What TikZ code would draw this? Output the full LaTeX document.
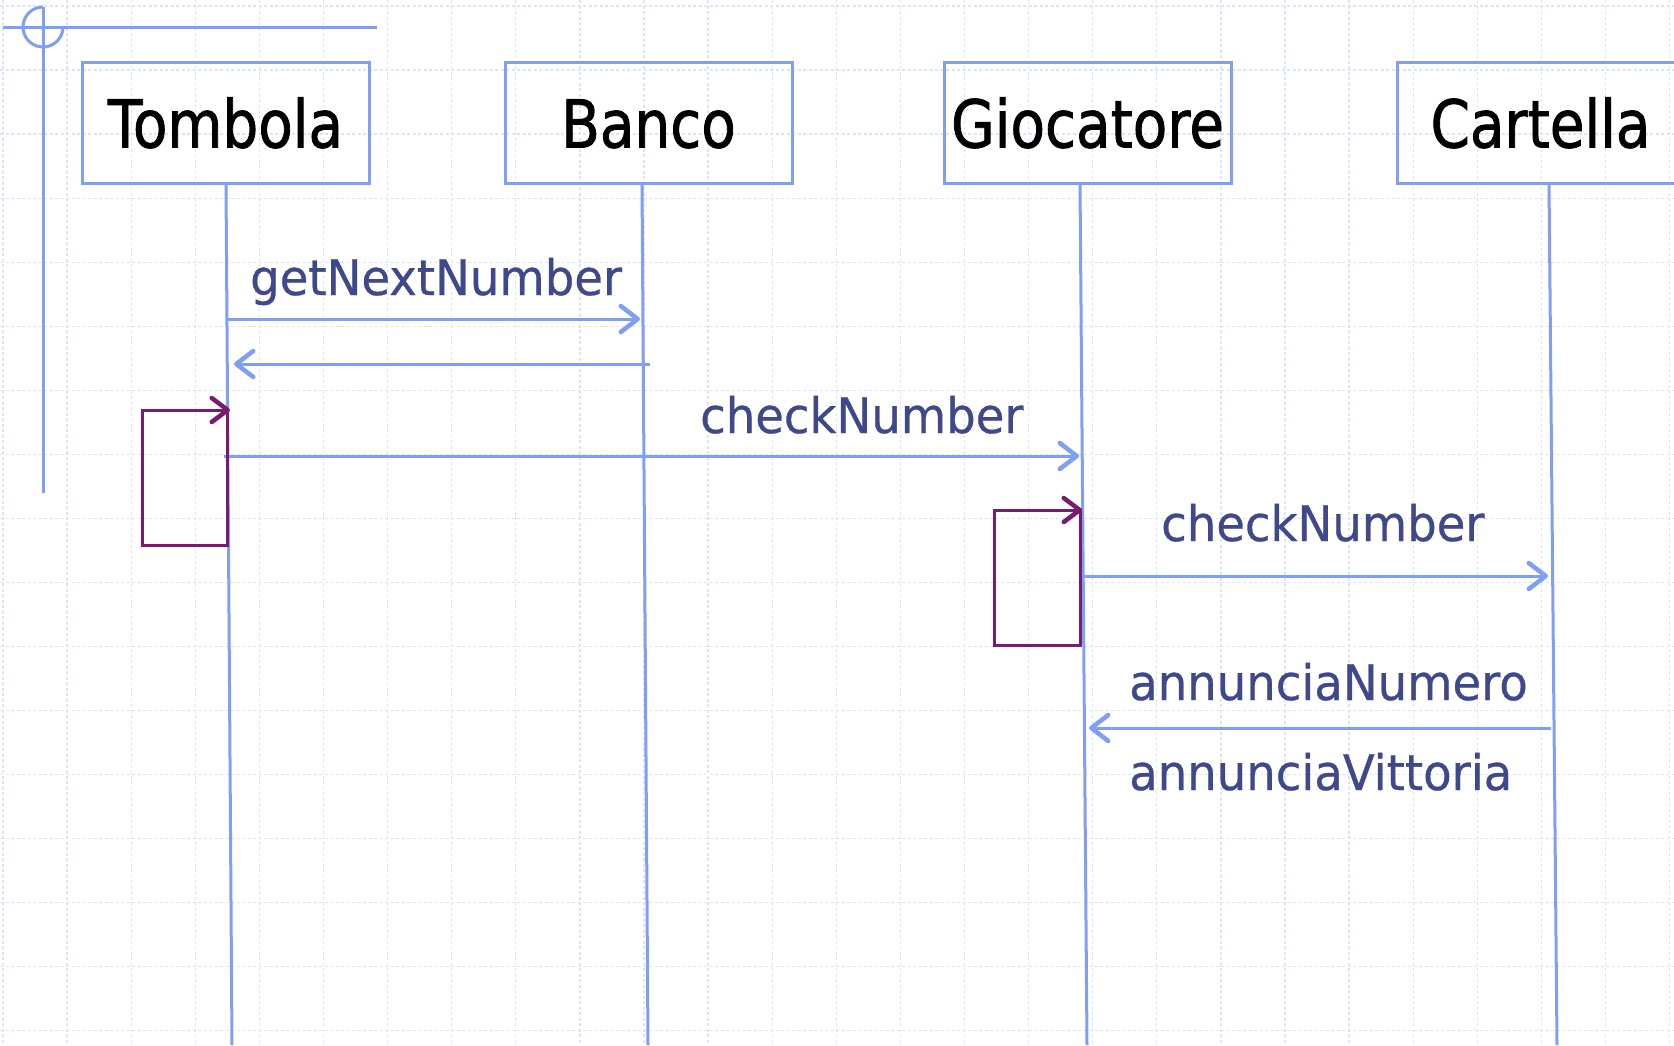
\documentclass[tikz,border=0pt]{standalone}
\usepackage{fontspec}
\usetikzlibrary{arrows.meta}
\newfontfamily\boxfont[FakeStretch=0.855,FakeBold=1.2]{DejaVu Sans}
\newfontfamily\msgfont[FakeStretch=0.95,FakeBold=0.6]{DejaVu Sans}
\definecolor{lineblue}{RGB}{127,158,245}
\definecolor{gridblue}{RGB}{220,228,252}
\definecolor{msgtext}{RGB}{64,72,140}
\definecolor{loopviolet}{RGB}{122,26,112}

\begin{document}
\begin{tikzpicture}[x=1pt,y=-1pt,
  gridline/.style={draw=gridblue, line width=1.3pt, dash pattern=on 3pt off 2.5pt},
  frame/.style={draw=lineblue, line width=3pt},
  object/.style={draw=lineblue, line width=3pt, minimum width=287pt, minimum height=121pt,
    inner sep=0pt, text height=50pt, text depth=0pt, text=black,
    font=\boxfont\fontsize{66}{70}\selectfont},
  lifeline/.style={draw=lineblue, line width=3pt},
  msg/.style={draw=lineblue, line width=3pt,
    -{Straight Barb[length=17pt,width=26pt,line width=4.5pt,round]}},
  selfcall/.style={draw=loopviolet, line width=3pt,
    -{Straight Barb[length=16pt,width=24pt,line width=4.5pt,round]}},
  msglabel/.style={anchor=base west, inner sep=0pt, text=msgtext,
    font=\msgfont\fontsize{49}{52}\selectfont}]

\useasboundingbox (0,0) rectangle (1674,1045);

% background grid
\foreach \i in {0,...,26}
  \draw[gridline] ({3+64.1*\i},0) -- ++(0,1045);
\foreach \j in {0,...,16}
  \draw[gridline] (0,{6+64.05*\j}) -- ++(1674,0);

% frame marker in the corner
\draw[frame] (3,27) -- (377,27);
\draw[frame] (43,7) -- (43,493);
\draw[frame] (43,7) arc[start angle=270, end angle=0, radius=20];

% objects
\node[object] (tombola)   at (225.5,122.5)  {Tombola};
\node[object] (banco)     at (648.5,122.5)  {Banco};
\node[object] (giocatore) at (1087.5,122.5) {Giocatore};
\node[object] (cartella)  at (1540.5,122.5) {Cartella};

% lifelines (slightly slanted)
\coordinate (tombolaTop)   at (226,183);   \coordinate (tombolaEnd)   at (232,1045);
\coordinate (bancoTop)     at (642,183);   \coordinate (bancoEnd)     at (648,1045);
\coordinate (giocatoreTop) at (1080,183);  \coordinate (giocatoreEnd) at (1087,1045);
\coordinate (cartellaTop)  at (1549,183);  \coordinate (cartellaEnd)  at (1557,1045);
\draw[lifeline] (tombolaTop)   -- (tombolaEnd);
\draw[lifeline] (bancoTop)     -- (bancoEnd);
\draw[lifeline] (giocatoreTop) -- (giocatoreEnd);
\draw[lifeline] (cartellaTop)  -- (cartellaEnd);

% message end points
\coordinate (m1s) at (226,319);  \coordinate (m1e) at (640,319);
\coordinate (m2s) at (650,364);  \coordinate (m2e) at (234,364);
\coordinate (m3s) at (224,456);  \coordinate (m3e) at (1079,456);
\coordinate (m4s) at (1083,576); \coordinate (m4e) at (1548,576);
\coordinate (m5s) at (1551,728); \coordinate (m5e) at (1089,728);

% messages
\draw[msg] (m1s) -- (m1e);
\draw[msg] (m2s) -- (m2e);
\draw[msg] (m3s) -- (m3e);
\draw[msg] (m4s) -- (m4e);
\draw[msg] (m5s) -- (m5e);

% self calls
\coordinate (t1s) at (227,410);  \coordinate (t1e) at (230,410);
\coordinate (g1s) at (1080,510); \coordinate (g1e) at (1082,510);
\draw[selfcall] (t1s) -- (227,545) -- (142,545) -- (142,410) -- (t1e);
\draw[selfcall] (g1s) -- (1080,645) -- (994,645) -- (994,510) -- (g1e);

% message labels
\node[msglabel] (l1) at (250,295)   {getNextNumber};
\node[msglabel] (l3) at (700,433)   {checkNumber};
\node[msglabel] (l4) at (1161,541)  {checkNumber};
\node[msglabel] (l5) at (1129,700)  {annunciaNumero};
\node[msglabel] (l6) at (1129,790)  {annunciaVittoria};

\end{tikzpicture}
\end{document}
